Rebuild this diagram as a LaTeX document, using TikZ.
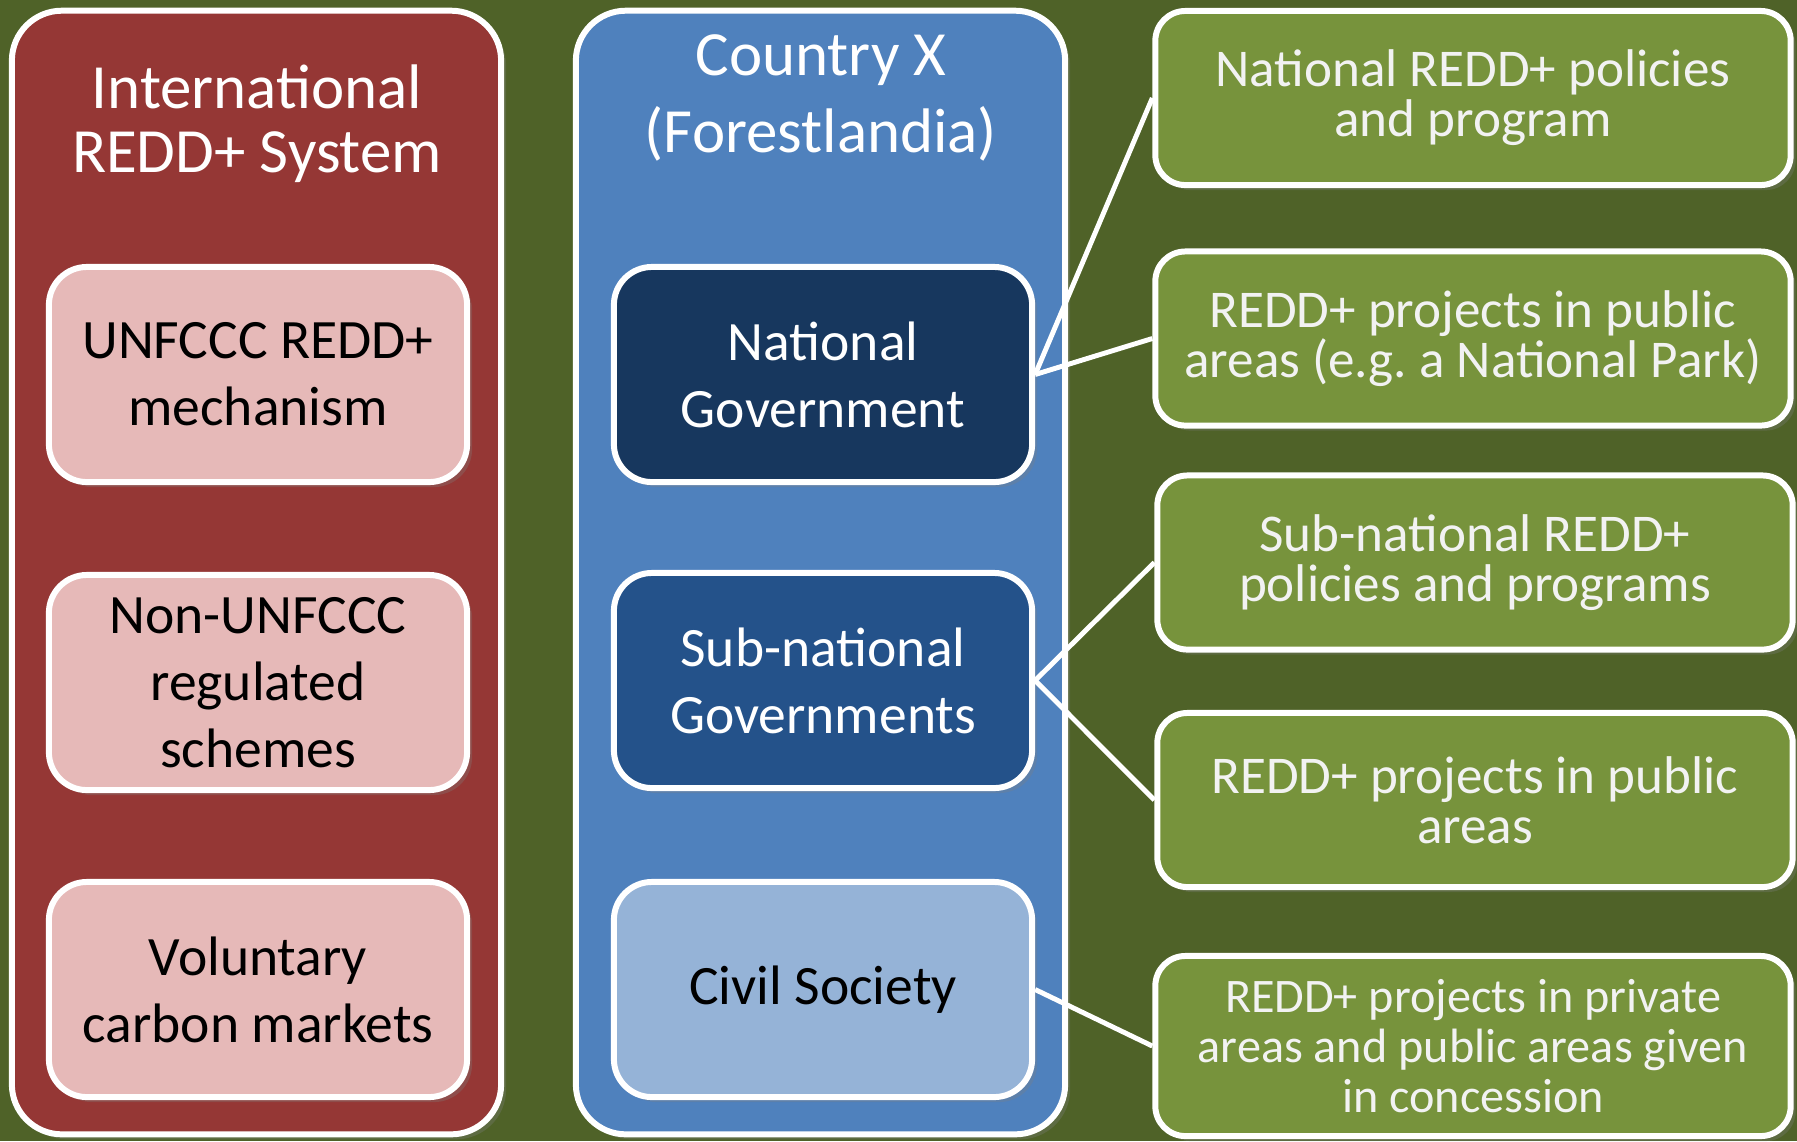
\documentclass[tikz,border=0pt]{standalone}
\usepackage{fontspec}
\setmainfont{Carlito}
\usetikzlibrary{positioning, shadows}

\definecolor{bgolive}{HTML}{4F6228}
\definecolor{intlred}{HTML}{953735}
\definecolor{pinkbox}{HTML}{E6B9B8}
\definecolor{countryblue}{HTML}{4F81BD}
\definecolor{navybox}{HTML}{17375E}
\definecolor{subblue}{HTML}{24528A}
\definecolor{civilblue}{HTML}{95B3D7}
\definecolor{leafgreen}{HTML}{77933C}
\definecolor{leaftext}{HTML}{F2F2F2}

\tikzset{
softshadow/.style={drop shadow={opacity=0.3, shadow xshift=0.05cm, shadow yshift=-0.05cm}},
panel/.style={draw=white, line width=1.7pt, rounded corners=0.5cm, minimum width=4.89cm, minimum height=11.23cm, inner sep=0pt, softshadow},
heading/.style={text=white, align=center, inner sep=0pt},
member/.style={draw=white, line width=1.7pt, rounded corners=0.38cm, minimum width=4.18cm, minimum height=2.15cm, inner sep=0pt, align=center, font=\fontsize{15.8}{19.1}\selectfont, softshadow},
leaf/.style={draw=white, line width=1.7pt, rounded corners=0.3cm, fill=leafgreen, text=leaftext, minimum width=6.35cm, minimum height=1.74cm, inner sep=0pt, align=center, font=\fontsize{15.1}{14.2}\selectfont, softshadow},
link/.style={draw=white, line width=1.4pt},
}

\begin{document}
\begin{tikzpicture}[x={(0.01cm,0)}, y={(0,-0.01cm)}]
    \useasboundingbox (0,0) rectangle (1797,1141);
    \fill[bgolive] (0,0) rectangle (1797,1141);

    %outer panels
    \node[panel, fill=intlred]     (intl) at (256.5,572.5) {};
    \node[panel, fill=countryblue] (country) at (820.5,572.5) {};
    \node[heading, font=\fontsize{17.9}{18.2}\selectfont]  (intlT) at (257,124) {International\\REDD+ System};
    \node[heading, font=\fontsize{17.9}{21.9}\selectfont]  (countryT) at (821,97.5) {Country X\\(Forestlandia)};

    %international members
    \node[member, fill=pinkbox]   (unfccc) at (258,374.5) {UNFCCC REDD+\\mechanism};
    \node[member, fill=pinkbox]   (nonunfccc) at (258,682.5) {Non-UNFCCC\\regulated\\schemes};
    \node[member, fill=pinkbox]   (voluntary) at (258,989.5) {Voluntary\\carbon markets};

    %country members
    \node[member, fill=navybox, text=white]  (natgov) at (823,374.5) {National\\Government};
    \node[member, fill=subblue, text=white]  (subgov) at (823,680.5) {Sub-national\\Governments};
    \node[member, fill=civilblue]            (civil) at (823,989.5) {Civil Society};

    %policies and projects
    \node[leaf] (g1) at (1473,98)   {National REDD+ policies\\and program};
    \node[leaf] (g2) at (1473,338.5) {REDD+ projects in public\\areas (e.g.\ a National Park)};
    \node[leaf] (g3) at (1475,562.5) {Sub-national REDD+\\policies and programs};
    \node[leaf] (g4) at (1475,800)  {REDD+ projects in public\\areas};
    \node[leaf, minimum height=1.80cm, font=\fontsize{13.7}{14.2}\selectfont] (g5) at (1473,1046) {REDD+ projects in private\\areas and public areas given\\in concession};

    %links
    \draw[link] (natgov.east)--(g1.west);
    \draw[link] (natgov.east)--(g2.west);
    \draw[link] (subgov.east)--(g3.west);
    \draw[link] (subgov.east)--(g4.west);
    \draw[link] (civil.east)--(g5.west);

\end{tikzpicture}
\end{document}
